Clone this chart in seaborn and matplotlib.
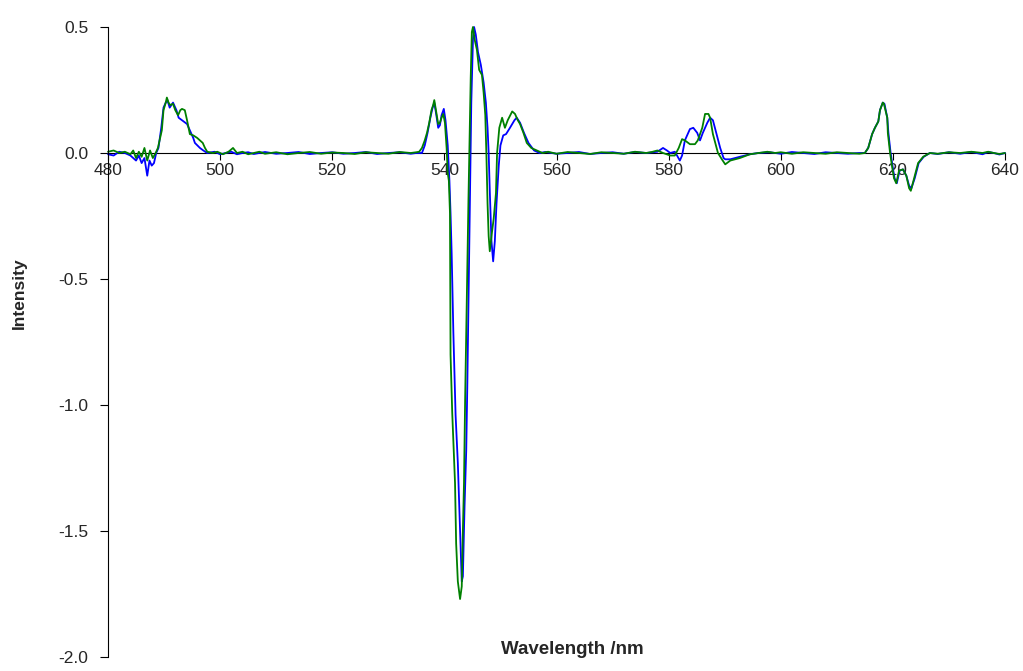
import matplotlib
matplotlib.use("Agg")
import matplotlib.pyplot as plt
import seaborn as sns
import pandas as pd

# ---------------- data ----------------
wl_green = [480.0, 481.0, 482.0, 483.0, 484.0, 484.5, 485.0, 485.5, 486.0, 486.5, 487.0, 487.5,
            488.0, 488.5, 488.9, 489.3, 489.6, 489.9, 490.3, 490.5, 490.8, 491.1, 491.6, 492.0,
            492.5, 492.9, 493.2, 493.7, 494.1, 494.6, 495.2, 495.9, 496.4, 496.9, 497.3, 497.7,
            498.7, 499.5, 500.5, 501.5, 502.3, 503.0, 504.0, 505.0, 506.0, 507.0, 508.0, 510.0,
            512.0, 514.0, 516.0, 518.0, 520.0, 522.0, 524.0, 526.0, 528.0, 530.0, 532.0, 534.0,
            535.0, 535.5, 536.0, 536.5, 536.9, 537.3, 537.7, 538.0, 538.2, 538.5, 538.9, 539.2,
            539.5, 539.8, 540.1, 540.4, 540.6, 540.8, 541.0, 541.1, 541.4, 541.9, 542.1, 542.4,
            542.8, 543.1, 543.3, 543.5, 543.7, 544.0, 544.3, 544.5, 544.7, 544.9, 545.1, 545.4,
            545.8, 546.2, 546.7, 547.0, 547.3, 547.5, 547.7, 547.9, 548.1, 548.4, 548.8, 549.2,
            549.4, 549.8, 550.3, 550.8, 551.3, 552.1, 552.6, 553.1, 553.5, 554.1, 554.7, 555.5,
            556.5, 557.5, 558.5, 560.0, 562.0, 564.0, 566.0, 568.0, 570.0, 572.0, 574.0, 576.0,
            577.0, 578.0, 579.0, 580.3, 581.1, 581.8, 582.4, 582.9, 583.8, 584.7, 585.2, 586.0,
            586.5, 587.1, 587.4, 587.9, 588.8, 589.5, 590.1, 591.0, 592.7, 594.5, 596.0, 597.6,
            599.0, 600.0, 602.0, 604.0, 606.0, 608.0, 610.0, 612.0, 614.0, 615.0, 615.6, 616.3,
            616.8, 617.4, 617.7, 618.2, 618.4, 619.0, 619.1, 619.5, 619.9, 620.2, 620.6, 621.1,
            621.8, 622.4, 622.9, 623.2, 623.8, 624.5, 625.4, 626.6, 628.0, 630.0, 632.0, 634.0,
            636.0, 637.0, 638.0, 639.0, 640.0]
int_green = [0.005, 0.01, 0.0, 0.005, -0.005, 0.01, -0.02, 0.005, -0.015, 0.02, -0.03, 0.01,
             -0.02, 0.0, 0.02, 0.06, 0.09, 0.17, 0.20, 0.22, 0.20, 0.19, 0.195, 0.17,
             0.15, 0.17, 0.175, 0.17, 0.13, 0.075, 0.07, 0.06, 0.05, 0.04, 0.02, 0.005,
             0.0, 0.005, -0.005, 0.005, 0.02, 0.0, 0.005, -0.005, 0.0, 0.005, -0.003, 0.003,
             -0.005, 0.0, 0.004, -0.003, 0.002, 0.0, -0.004, 0.003, 0.0, -0.003, 0.004, 0.0,
             0.003, 0.005, 0.02, 0.05, 0.08, 0.12, 0.17, 0.19, 0.21, 0.17, 0.115, 0.12,
             0.14, 0.155, 0.12, 0.02, -0.08, -0.11, -0.24, -0.80, -1.03, -1.31, -1.55, -1.70,
             -1.77, -1.72, -1.50, -1.31, -0.98, -0.58, -0.18, 0.05, 0.30, 0.48, 0.50, 0.45,
             0.41, 0.33, 0.31, 0.24, 0.15, -0.01, -0.20, -0.33, -0.39, -0.33, -0.26, -0.16,
             0.0, 0.10, 0.14, 0.10, 0.13, 0.165, 0.155, 0.13, 0.115, 0.08, 0.04, 0.02,
             0.01, 0.0, 0.005, -0.003, 0.004, 0.0, -0.004, 0.003, 0.0, -0.003, 0.005, 0.0,
             0.004, 0.01, 0.0, -0.01, -0.01, 0.02, 0.055, 0.05, 0.035, 0.035, 0.05, 0.10,
             0.155, 0.155, 0.14, 0.075, 0.0, -0.025, -0.045, -0.03, -0.02, -0.005, 0.0, 0.005,
             0.0, 0.003, -0.003, 0.003, 0.0, -0.003, 0.003, 0.0, -0.003, 0.0, 0.02, 0.075,
             0.10, 0.125, 0.17, 0.20, 0.195, 0.14, 0.08, 0.0, -0.06, -0.10, -0.12, -0.07,
             -0.065, -0.09, -0.14, -0.15, -0.10, -0.04, -0.015, 0.0, -0.003, 0.003, 0.0, 0.005,
             0.0, 0.005, 0.0, -0.004, 0.0]

wl_blue = [480.0, 481.0, 482.0, 483.0, 484.0, 485.0, 485.5, 486.0, 486.5, 487.0, 487.4, 487.8,
           488.2, 488.6, 489.0, 489.5, 489.9, 490.3, 490.6, 491.0, 491.6, 492.2, 492.6, 493.2,
           494.1, 494.6, 495.2, 495.5, 496.4, 497.0, 497.7, 499.0, 500.0, 501.0, 502.0, 503.0,
           504.0, 505.0, 506.0, 508.0, 510.0, 512.0, 514.0, 516.0, 518.0, 520.0, 522.0, 524.0,
           526.0, 528.0, 530.0, 532.0, 534.0, 535.0, 536.0, 536.5, 537.0, 537.5, 537.9, 538.2,
           538.5, 538.9, 539.2, 539.5, 539.9, 540.2, 540.6, 540.9, 541.1, 541.3, 541.6, 542.0,
           542.4, 542.8, 543.1, 543.3, 543.6, 543.9, 544.1, 544.4, 544.6, 544.8, 545.1, 545.3,
           545.6, 546.0, 546.5, 547.0, 547.4, 547.7, 547.9, 548.1, 548.4, 548.7, 549.0, 549.3,
           549.7, 550.0, 550.5, 551.0, 551.7, 552.5, 552.9, 553.5, 554.2, 555.0, 556.0, 557.0,
           558.0, 560.0, 562.0, 564.0, 566.0, 568.0, 570.0, 572.0, 574.0, 576.0, 578.0, 579.0,
           579.7, 580.3, 581.1, 581.5, 582.0, 582.4, 582.9, 583.5, 583.8, 584.4, 585.1, 585.6,
           586.1, 586.9, 587.4, 587.9, 588.6, 589.2, 589.8, 590.1, 591.0, 592.7, 594.5, 596.0,
           598.0, 600.0, 602.0, 604.0, 606.0, 608.0, 610.0, 612.0, 614.0, 615.0, 615.6, 616.3,
           616.8, 617.4, 617.7, 618.2, 618.5, 619.0, 619.2, 619.6, 620.0, 620.3, 620.7, 621.2,
           621.8, 622.4, 622.9, 623.3, 623.9, 624.6, 625.5, 626.6, 628.0, 630.0, 632.0, 634.0,
           636.0, 637.0, 638.0, 639.0, 640.0]
int_blue = [-0.005, -0.01, 0.005, 0.0, -0.01, -0.03, -0.01, -0.04, -0.02, -0.09, -0.03, -0.05,
            -0.04, 0.0, 0.02, 0.10, 0.18, 0.20, 0.21, 0.18, 0.20, 0.17, 0.14, 0.13,
            0.115, 0.09, 0.06, 0.04, 0.02, 0.01, 0.0, 0.005, -0.005, 0.0, 0.005, -0.005,
            0.0, 0.003, -0.004, 0.004, -0.003, 0.0, 0.004, -0.004, 0.0, 0.003, -0.003, 0.0,
            0.004, -0.004, 0.0, 0.003, -0.003, 0.0, 0.0, 0.03, 0.08, 0.14, 0.18, 0.20,
            0.16, 0.10, 0.11, 0.15, 0.175, 0.13, 0.03, -0.11, -0.24, -0.40, -0.71, -1.04,
            -1.23, -1.50, -1.70, -1.68, -1.40, -1.18, -0.91, -0.44, -0.11, 0.20, 0.45, 0.50,
            0.47, 0.40, 0.35, 0.28, 0.20, 0.10, 0.0, -0.15, -0.35, -0.43, -0.35, -0.20,
            -0.05, 0.03, 0.07, 0.075, 0.10, 0.13, 0.14, 0.12, 0.08, 0.04, 0.01, 0.0,
            0.004, -0.003, 0.0, 0.004, -0.004, 0.0, 0.003, -0.003, 0.004, 0.0, 0.005, 0.02,
            0.01, 0.0, 0.005, -0.01, -0.03, -0.01, 0.05, 0.08, 0.095, 0.10, 0.08, 0.05,
            0.08, 0.12, 0.14, 0.13, 0.07, 0.02, -0.02, -0.025, -0.025, -0.015, -0.005, 0.0,
            0.003, -0.003, 0.004, 0.0, -0.004, 0.003, 0.0, -0.003, 0.0, 0.0, 0.02, 0.075,
            0.10, 0.125, 0.17, 0.20, 0.195, 0.14, 0.08, 0.0, -0.06, -0.10, -0.12, -0.07,
            -0.065, -0.09, -0.13, -0.14, -0.10, -0.04, -0.015, 0.0, -0.004, 0.003, -0.003, 0.004,
            -0.005, 0.004, 0.0, -0.006, 0.0]

x_ticks = [480, 500, 520, 540, 560, 580, 600, 620, 640]
y_ticks = [-2.0, -1.5, -1.0, -0.5, 0.0, 0.5]
series_names = ["blue", "green"]
series_colors = {"blue": "#0000FF", "green": "#008000"}

df = pd.concat([
    pd.DataFrame({"wl": wl_blue, "val": int_blue, "s": "blue"}),
    pd.DataFrame({"wl": wl_green, "val": int_green, "s": "green"}),
], ignore_index=True)

# ---------------- plotting ----------------
sns.set_style("white")
plt.rcParams["font.family"] = ["Liberation Sans", "DejaVu Sans"]

fig = plt.figure(figsize=(10.23, 6.71), dpi=100)
ax = fig.add_axes([108 / 1023, 1 - 657 / 671, (1005 - 108) / 1023, (657 - 27) / 671])

sns.lineplot(data=df, x="wl", y="val", hue="s", hue_order=series_names,
             palette=series_colors, sort=False, estimator=None, units="s",
             linewidth=1.3, legend=False, ax=ax)
for ln in ax.get_lines():
    ln.set_clip_on(False)

ax.set_xlim(480, 640)
ax.set_ylim(-2.0, 0.5)
ax.set_xticks(x_ticks)
ax.set_xticklabels([str(t) for t in x_ticks])
ax.set_yticks(y_ticks)
ax.set_yticklabels([f"{t:.1f}" for t in y_ticks])

ax.spines["top"].set_visible(False)
ax.spines["right"].set_visible(False)
ax.spines["bottom"].set_position(("data", 0))
ax.spines["bottom"].set_color("#000000")
ax.spines["bottom"].set_linewidth(0.8)
ax.spines["left"].set_color("#000000")
ax.spines["left"].set_linewidth(0.8)
ax.spines["bottom"].set_zorder(1)

ax.tick_params(axis="x", direction="out", length=5, width=0.8, color="black",
               labelsize=12.5, pad=2, bottom=True)
ax.tick_params(axis="y", direction="out", length=6, width=0.8, color="black",
               labelsize=12.5, pad=8, left=True)

ax.set_xlabel("")
ax.set_ylabel("")
fig.text(572 / 1023, 1 - 650 / 671, "Wavelength /nm", ha="center", va="center",
         fontsize=13.5, fontweight="bold")
fig.text(19 / 1023, 1 - 293 / 671, "Intensity", ha="center", va="center",
         rotation=90, fontsize=12.5, fontweight="bold")

fig.savefig("out.png", dpi=100)
